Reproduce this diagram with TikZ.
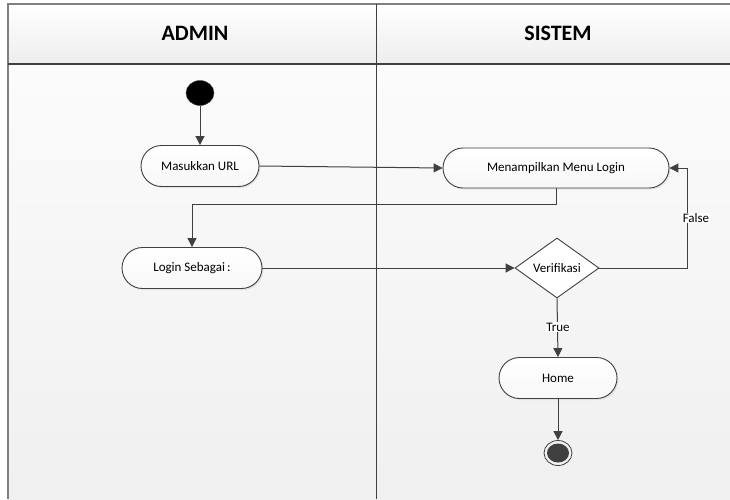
\documentclass[tikz,border=0pt]{standalone}
\usepackage{fontspec}
\setmainfont{Carlito}
\usetikzlibrary{arrows.meta,shapes.geometric,shapes.misc,shadows}
\definecolor{linec}{HTML}{404040}
\definecolor{framec}{HTML}{808080}
\tikzset{
  act/.style={rounded rectangle, draw=linec, line width=0.9pt, top color=white, bottom color=gray!6,
    drop shadow={shadow xshift=1.5pt, shadow yshift=-1.5pt, fill=gray!35, opacity=0.5},
    font=\fontsize{13}{15}\selectfont, inner sep=0pt},
  flow/.style={draw=linec, line width=1pt, -{Triangle[length=9pt,width=9pt]}},
  lbl/.style={fill=white, inner sep=0.5pt, font=\fontsize{13}{15}\selectfont},
  hdr/.style={font=\fontsize{22}{25}\selectfont\bfseries}
}
\begin{document}
\begin{tikzpicture}[x=1pt,y=-1pt]
\useasboundingbox (0,0) rectangle (730,499);
\fill[white] (0,0) rectangle (730,499);
% pool
\shade[top color=gray!3, bottom color=gray!12] (8,64) rectangle (730,499);
\shade[top color=white, bottom color=gray!14] (8,4) rectangle (730,64);
\draw[framec, line width=1.6pt] (8,499) -- (8,4) -- (730,4);
\draw[linec, line width=1.2pt] (8,64) -- (730,64);
\draw[linec, line width=0.9pt] (376,4) -- (376,499);
\node[hdr] (hadmin) at (195,33) {ADMIN};
\node[hdr] (hsistem) at (558,33) {SISTEM};
% nodes
\node[ellipse, fill=black, draw=linec, minimum width=28pt, minimum height=25pt, inner sep=0pt] (start) at (200,93) {};
\node[act, minimum width=118pt, minimum height=41pt] (url) at (200,166) {Masukkan URL};
\node[act, minimum width=226pt, minimum height=40pt] (menu) at (556,168) {Menampilkan Menu Login};
\node[act, minimum width=140pt, minimum height=41pt] (login) at (192,268) {Login Sebagai\,:};
\node[diamond, draw=linec, line width=0.9pt, fill=white, minimum width=84pt, minimum height=60pt, inner sep=0pt,
  font=\fontsize{13}{15}\selectfont, aspect=1.4] (ver) at (557,268) {Verifikasi};
\node[act, minimum width=118pt, minimum height=41pt] (home) at (558,378) {Home};
\node[ellipse, draw=linec, line width=0.8pt, minimum width=28pt, minimum height=25pt, inner sep=0pt] (endo) at (558,453) {};
\node[ellipse, fill=linec, minimum width=22pt, minimum height=19pt, inner sep=0pt] (endi) at (558,453) {};
% connectors
\draw[flow] (start) -- (url);
\draw[flow] (url.east) -- (menu.west);
\coordinate (c1) at (556,204);
\coordinate (c2) at (192,204);
\draw[flow] (menu.south) -- (c1) -- (c2) -- (login.north);
\draw[flow] (login.east) -- (ver.west);
\coordinate (c3) at (687,268);
\coordinate (c4) at (687,168);
\draw[flow] (ver.east) -- (c3) -- (c4) -- (menu.east);
\node[lbl] (lfalse) at (696,218) {False};
\draw[flow] (ver.south) -- (home.north);
\node[lbl] (ltrue) at (558,327) {True};
\draw[flow] (home.south) -- (endo.north);
\end{tikzpicture}
\end{document}
